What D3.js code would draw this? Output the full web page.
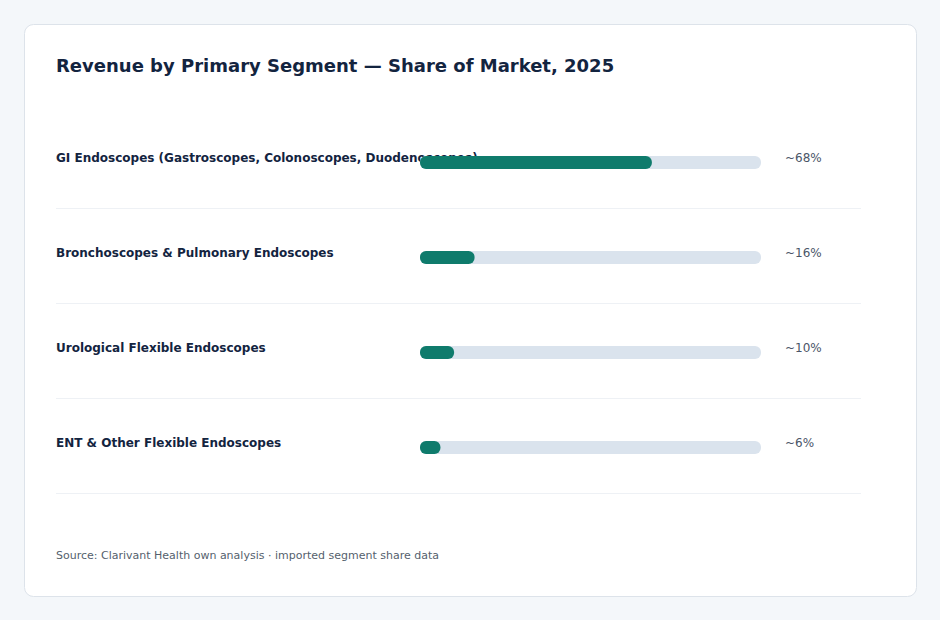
<!DOCTYPE html>
<html>
<head>
<meta charset="utf-8">
<script src="https://cdn.jsdelivr.net/npm/d3@7"></script>
<style>
  body { margin: 0; background: #f4f7fa; font-family: "DejaVu Sans", sans-serif; }
  #chart { position: absolute; left: 0; top: 0; }
</style>
</head>
<body>
<div id="chart"></div>
<script>
const segments = [
    'GI Endoscopes (Gastroscopes, Colonoscopes, Duodenoscopes)',
    'Bronchoscopes & Pulmonary Endoscopes',
    'Urological Flexible Endoscopes',
    'ENT & Other Flexible Endoscopes'
];
const shares = [68, 16, 10, 6];
const shareLabels = ['~68%', '~16%', '~10%', '~6%'];

function drawChart() {
    const width = 940;
    const height = 620;

    const svg = d3.select("#chart").append("svg")
        .attr("width", width)
        .attr("height", height)
        .attr("viewBox", [0, 0, width, height]);

    // card
    svg.append("rect")
        .attr("x", 24.5).attr("y", 24.5)
        .attr("width", 892).attr("height", 572)
        .attr("rx", 9)
        .attr("fill", "#ffffff")
        .attr("stroke", "#dde3ea");

    svg.append("text")
        .attr("x", 56).attr("y", 72)
        .attr("fill", "#13243f")
        .style("font-size", "18px")
        .style("font-weight", "bold")
        .text("Revenue by Primary Segment \u2014 Share of Market, 2025");

    const y = d3.scaleBand()
        .domain(segments)
        .range([114, 494]);

    const x = d3.scaleLinear()
        .domain([0, 100])
        .range([420, 761]);

    const barH = 13;

    const rows = svg.append("g")
        .selectAll("g")
        .data(segments)
        .join("g")
            .attr("transform", d => `translate(0,${y(d)})`);

    rows.append("line")
        .attr("x1", 56).attr("x2", 861)
        .attr("y1", y.bandwidth() - 0.5).attr("y2", y.bandwidth() - 0.5)
        .attr("stroke", "#eef1f5");

    rows.append("text")
        .attr("x", 56).attr("y", 48)
        .attr("fill", "#13243f")
        .style("font-size", "12px")
        .style("font-weight", "bold")
        .text(d => d);

    rows.append("rect")
        .attr("x", x(0)).attr("y", 42)
        .attr("width", x(100) - x(0)).attr("height", barH)
        .attr("rx", 6)
        .attr("fill", "#dae3ed");

    rows.append("rect")
        .attr("x", x(0)).attr("y", 42)
        .attr("width", (d, i) => x(shares[i]) - x(0)).attr("height", barH)
        .attr("rx", 6)
        .attr("fill", "#0f7b6c");

    rows.append("text")
        .attr("x", 785).attr("y", 48)
        .attr("fill", "#4a5568")
        .style("font-size", "12px")
        .text((d, i) => shareLabels[i]);

    svg.append("text")
        .attr("x", 56).attr("y", 559)
        .attr("fill", "#555f6d")
        .style("font-size", "11px")
        .text("Source: Clarivant Health own analysis \u00b7 imported segment share data");
}

drawChart();
</script>
</body>
</html>
